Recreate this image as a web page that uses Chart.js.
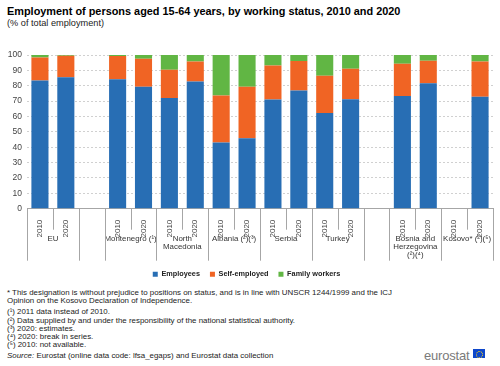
<!DOCTYPE html>
<html lang="en">
<head>
<meta charset="UTF-8" />
<title>Employment by working status, 2010 and 2020</title>
<script src="https://cdn.jsdelivr.net/npm/chart.js"></script>
<style>
  body { margin: 0; width: 500px; height: 366px; background: #fff; position: relative; overflow: hidden;
         font-family: "Liberation Sans", Arial, sans-serif; color: #000; }
  .title { position: absolute; left: 7px; top: 5px; font-size: 10.9px; font-weight: bold; white-space: nowrap; }
  .subtitle { position: absolute; left: 7px; top: 18px; font-size: 9.2px; color: #222; }
  .chart-box { position: absolute; left: 0; top: 40px; width: 500px; height: 248px; }
  .notes { position: absolute; left: 7px; top: 289px; font-size: 7.9px; line-height: 8.2px; color: #222; white-space: nowrap; }
  .notes p { margin: 0; }
  .notes .gap { margin-top: 3px; }
  .logo { position: absolute; left: 424px; top: 348px; font-size: 13px; color: #7a7a7a; letter-spacing: -0.2px; }
  .flag { position: absolute; left: 473px; top: 349px; width: 12px; height: 9px; background: #0e47cb; }
  .flag span { position: absolute; left: 3px; top: 1.5px; width: 5px; height: 5px; border: 1px dotted #ffd617; border-radius: 50%; }
</style>
</head>
<body>
  <div class="title">Employment of persons aged 15-64 years, by working status, 2010 and 2020</div>
  <div class="subtitle">(% of total employment)</div>
  <div class="chart-box"><canvas id="chart"></canvas></div>
  <div class="notes">
    <p>* This designation is without prejudice to positions on status, and is in line with UNSCR 1244/1999 and the ICJ</p>
    <p>Opinion on the Kosovo Declaration of Independence.</p>
    <p class="gap">(¹) 2011 data instead of 2010.</p>
    <p>(²) Data supplied by and under the responsibility of the national statistical authority.</p>
    <p>(³) 2020: estimates.</p>
    <p>(⁴) 2020: break in series.</p>
    <p>(⁵) 2010: not available.</p>
    <p class="gap"><i>Source:</i> Eurostat (online data code: lfsa_egaps) and Eurostat data collection</p>
  </div>
  <div class="logo">eurostat</div>
  <div class="flag"><span></span></div>

  <script>
    // x categories (year under each bar, '' for spacer slots)
    const years = ['2010', '2020', '', '2010', '2020', '2010', '2020', '2010', '2020',
                   '2010', '2020', '2010', '2020', '', '2010', '2020', '2010', '2020'];
    const groupNames = [['EU'], [''], ['Montenegro (¹)'], ['North', 'Macedonia'], ['Albania (²)(³)'],
                        ['Serbia'], ['Turkey'], [''], ['Bosnia and', 'Herzegovina', '(²)(⁴)'], ['Kosovo* (²)(⁵)']];
    const groupSizes = [2, 1, 2, 2, 2, 2, 2, 1, 2, 2];

    const employees    = [83.4, 85.6, null, 84.3, 79.3, 72.1, 82.7, 43.1, 45.9, 71.0, 76.9, 62.3, 71.2, null, 73.4, 81.7, null, 72.9];
    const selfEmployed = [15.0, 13.9, null, 15.0, 18.3, 18.3, 13.1, 30.5, 33.4, 22.2, 19.2, 24.2, 19.8, null, 20.9, 14.6, null, 22.9];
    const familyWorkers = [1.6, 0.5, null, 0.7, 2.4, 9.6, 4.2, 26.4, 20.7, 6.8, 3.9, 13.5, 9.0, null, 5.7, 3.7, null, 4.2];

    const yTicks = [0, 10, 20, 30, 40, 50, 60, 70, 80, 90, 100];

    // group separators + names under the year labels
    const groupLabels = {
      id: 'groupLabels',
      afterDraw(chart) {
        const x = chart.scales.x, ctx = chart.ctx;
        const top = x.top;
        ctx.save();
        ctx.strokeStyle = '#a6a6a6';
        ctx.lineWidth = 1;
        ctx.fillStyle = '#333';
        ctx.font = '7.9px "Liberation Sans", Arial, sans-serif';
        ctx.textAlign = 'center';
        ctx.textBaseline = 'middle';
        let start = 0;
        const edge = v => Math.round(x.getPixelForValue(v)) + 0.5;
        ctx.beginPath();
        ctx.moveTo(edge(-0.5), top); ctx.lineTo(edge(-0.5), top + 52);
        groupSizes.forEach((n, i) => {
          const end = start + n;
          ctx.moveTo(edge(end - 0.5), top); ctx.lineTo(edge(end - 0.5), top + 52);
          if (n === 2) {
            ctx.moveTo(edge(start + 0.5), top); ctx.lineTo(edge(start + 0.5), top + 21);
          }
          const cx = x.getPixelForValue(start + (n - 1) / 2);
          groupNames[i].forEach((line, k) => ctx.fillText(line, cx, top + 30 + k * 8.3));
          start = end;
        });
        ctx.stroke();
        ctx.restore();
      }
    };

    new Chart(document.getElementById('chart'), {
      type: 'bar',
      data: {
        labels: years,
        datasets: [
          { label: 'Employees', data: employees, backgroundColor: '#286eb4' },
          { label: 'Self-employed', data: selfEmployed, backgroundColor: '#f06424' },
          { label: 'Family workers', data: familyWorkers, backgroundColor: '#61b644' }
        ]
      },
      options: {
        responsive: true,
        maintainAspectRatio: false,
        animation: false,
        barPercentage: 0.66,
        categoryPercentage: 1,
        layout: { padding: { left: 0, right: 7, top: 15, bottom: 0 } },
        plugins: {
          tooltip: { enabled: false },
          legend: {
            position: 'bottom',
            labels: {
              boxWidth: 5, boxHeight: 5, padding: 10, color: '#222',
              font: { size: 7.3, weight: 'bold', family: '"Liberation Sans", Arial, sans-serif' }
            }
          }
        },
        scales: {
          x: {
            stacked: true,
            grid: { display: false },
            border: { color: '#a6a6a6' },
            ticks: {
              minRotation: 90, maxRotation: 90, autoSkip: false, padding: 3, color: '#444',
              font: { size: 8, family: '"Liberation Sans", Arial, sans-serif' }
            },
            afterFit: s => { s.height = 52; }
          },
          y: {
            stacked: true,
            min: 0, max: 100,
            afterBuildTicks: s => { s.ticks = yTicks.map(v => ({ value: v })); },
            grid: { color: '#d0d0d0', drawTicks: false },
            border: { display: false, dash: [2, 2] },
            ticks: {
              padding: 5, color: '#444',
              font: { size: 8.5, family: '"Liberation Sans", Arial, sans-serif' }
            },
            afterFit: s => { s.width = 27; }
          }
        }
      },
      plugins: [groupLabels]
    });
  </script>
</body>
</html>
